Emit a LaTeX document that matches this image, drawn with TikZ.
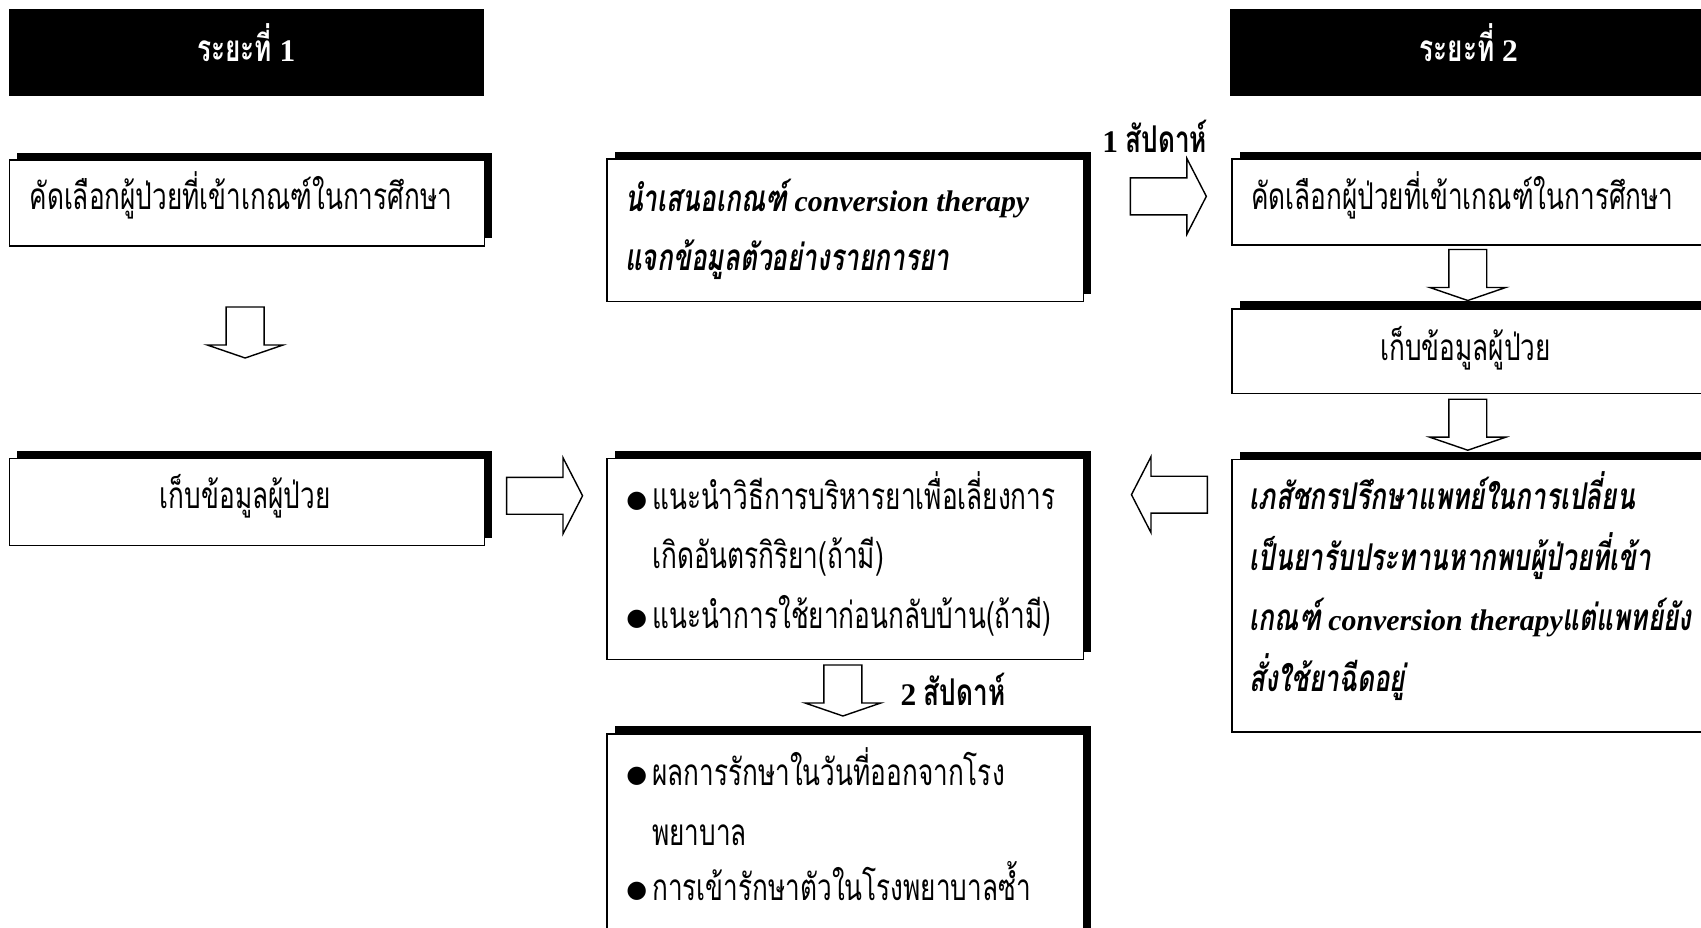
\documentclass[tikz,border=0pt]{standalone}
\usepackage{fontspec}
\setmainfont{Liberation Serif}
\newfontfamily\thai[Script=Thai,FakeStretch=0.71]{Loma}
\newfontfamily\symf{DejaVu Sans}
\usetikzlibrary{shadows}
\newcommand{\ThR}[1]{{\thai\fontsize{34}{40}\selectfont #1}}
\newcommand{\ThB}[1]{{\thai\fontsize{34}{40}\selectfont\bfseries #1}}
\newcommand{\ThBI}[1]{{\thai\fontsize{34}{40}\selectfont\bfseries\itshape #1}}
\newcommand{\LaBI}[1]{{\fontsize{27.5}{33}\selectfont\bfseries\itshape #1}}
\newcommand{\LaB}[1]{{\fontsize{29}{33}\selectfont\bfseries #1}}
\newcommand{\Sp}{\hspace{7pt}}
\newcommand{\Bul}{{\symf\fontsize{22}{24}\selectfont ●}}
\tikzset{
  box/.style={draw, line width=1.3pt, fill=white, anchor=north west, inner sep=0pt,
    drop shadow={shadow xshift=7pt, shadow yshift=7pt, opacity=1, fill=black}},
  hdr/.style={fill=black, anchor=north west, inner sep=0pt, minimum width=438pt, minimum height=80pt},
  hdrtxt/.style={anchor=base, inner sep=0pt, text=white},
  tl/.style={anchor=base west, inner sep=0pt},
  tc/.style={anchor=base, inner sep=0pt},
  bul/.style={anchor=center, inner sep=0pt},
  blk/.style={draw, line width=1.3pt, fill=white, line join=miter},
  downblk/.pic={\draw[blk] (-17.5,0) -- (17.5,0) -- (17.5,35) -- (35,35) -- (0,47) -- (-35,35) -- (-17.5,35) -- cycle;},
  rightblk/.pic={\draw[blk] (0,-17) -- (52,-17) -- (52,-35) -- (70,0) -- (52,35) -- (52,17) -- (0,17) -- cycle;}
}
\begin{document}
\begin{tikzpicture}[x=1pt,y=-1pt]
\useasboundingbox (0,0) rectangle (1568,855);
\clip (0,0) rectangle (1568,855);
\fill[white] (0,0) rectangle (1568,855);
% headers
\node[hdr] (h1) at (8,8) {};
\node[hdrtxt] (h1t) at (227,57) {\ThB{ระยะที่}\Sp\LaB{1}};
\node[hdr, minimum width=445pt] (h2) at (1134,8) {};
\node[hdrtxt] (h2t) at (1354,57) {\ThB{ระยะที่}\Sp\LaB{2}};
% boxes
\node[box, minimum width=438pt, minimum height=79pt] (A) at (8,147) {};
\node[box, minimum width=438pt, minimum height=80pt] (B) at (8,422) {};
\node[box, minimum width=439pt, minimum height=131pt] (C) at (559,146) {};
\node[box, minimum width=445pt, minimum height=79pt] (D) at (1135,146) {};
\node[box, minimum width=445pt, minimum height=78pt] (E) at (1135,284) {};
\node[box, minimum width=445pt, minimum height=251pt] (F) at (1135,423) {};
\node[box, minimum width=439pt, minimum height=185pt] (G) at (559,422) {};
\node[box, minimum width=439pt, minimum height=200pt] (H) at (559,676) {};
% texts
\node[tl] (At) at (27,193.5) {\ThR{คัดเลือกผู้ป่วยที่เข้าเกณฑ์ในการศึกษา}};
\node[tc] (Bt) at (226,468.5) {\ThR{เก็บข้อมูลผู้ป่วย}};
\node[tl] (Ct1) at (576,195) {\ThBI{นำเสนอเกณฑ์}\Sp\LaBI{conversion therapy}};
\node[tl] (Ct2) at (576,249) {\ThBI{แจกข้อมูลตัวอย่างรายการยา}};
\node[tl] (Dt) at (1153,193) {\ThR{คัดเลือกผู้ป่วยที่เข้าเกณฑ์ในการศึกษา}};
\node[tc] (Et) at (1351,332) {\ThR{เก็บข้อมูลผู้ป่วย}};
\node[tl] (Ft1) at (1152,470) {\ThBI{เภสัชกรปรึกษาแพทย์ในการเปลี่ยน}};
\node[tl] (Ft2) at (1152,526) {\ThBI{เป็นยารับประทานหากพบผู้ป่วยที่เข้า}};
\node[tl] (Ft3) at (1152,581) {\ThBI{เกณฑ์}\Sp\LaBI{conversion therapy}\ThBI{แต่แพทย์ยัง}};
\node[tl] (Ft4) at (1152,637) {\ThBI{สั่งใช้ยาฉีดอยู่}};
\node[bul] (Gb1) at (587,462) {\Bul};
\node[tl] (Gt1) at (601,470) {\ThR{แนะนำวิธีการบริหารยาเพื่อเลี่ยงการ}};
\node[tl] (Gt2) at (601,524) {\ThR{เกิดอันตรกิริยา(ถ้ามี)}};
\node[bul] (Gb2) at (587,571) {\Bul};
\node[tl] (Gt3) at (601,579) {\ThR{แนะนำการใช้ยาก่อนกลับบ้าน(ถ้ามี)}};
\node[bul] (Hb1) at (587,716) {\Bul};
\node[tl] (Ht1) at (601,724) {\ThR{ผลการรักษาในวันที่ออกจากโรง}};
\node[tl] (Ht2) at (601,779) {\ThR{พยาบาล}};
\node[bul] (Hb2) at (587,822) {\Bul};
\node[tl] (Ht3) at (601,830) {\ThR{การเข้ารักษาตัวในโรงพยาบาลซ้ำ}};
% block arrows
\pic at (226,283) {downblk};
\pic at (1353,230) {downblk};
\pic at (1353,368) {downblk};
\pic at (777,613) {downblk};
\pic at (467,457) {rightblk};
\pic at (1042,181) {rightblk};
\pic[rotate=180] at (1113,456) {rightblk};
% arrow labels
\node[anchor=base east, inner sep=0pt] (w1) at (1113,141) {\LaB{1}\Sp\ThB{สัปดาห์}};
\node[anchor=base west, inner sep=0pt] (w2) at (830,650) {\LaB{2}\Sp\ThB{สัปดาห์}};
\end{tikzpicture}
\end{document}
